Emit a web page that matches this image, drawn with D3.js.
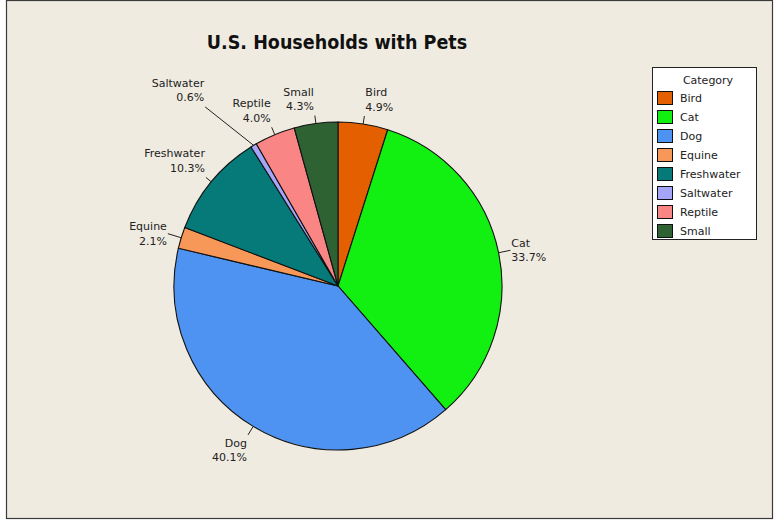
<!DOCTYPE html>
<html><head><meta charset="utf-8">
<script src="https://cdn.jsdelivr.net/npm/d3@7"></script>
<style>
html,body{margin:0;padding:0;background:#fff;}
svg{display:block;}
text{font-family:"DejaVu Sans",Verdana,sans-serif;}
</style></head>
<body>
<svg id="chart" width="775" height="521"></svg>
<script>
const categories = ["Bird","Cat","Dog","Equine","Freshwater","Saltwater","Reptile","Small"];
const percents = [4.9,33.7,40.1,2.1,10.3,0.6,4.0,4.3];
const colors = ["#E45F00","#11F011","#4F93F2","#F79858","#067A78","#A5A5FA","#F98585","#2F6232"];
const title = "U.S. Households with Pets";
const legendTitle = "Category";

const W = 775, H = 521;
const svg = d3.select("#chart");
svg.append("rect").attr("x",0).attr("y",0).attr("width",W).attr("height",H).attr("fill","#fff");
svg.append("rect").attr("x",6.5).attr("y",0.5).attr("width",766).attr("height",518)
  .attr("fill","#EFEBE1").attr("stroke","#3a3a3a").attr("stroke-width",1.2);

svg.append("text").attr("x",337).attr("y",49).attr("text-anchor","middle")
  .style("font-family","'DejaVu Sans Condensed','DejaVu Sans',sans-serif")
  .style("font-weight","bold").style("font-size","19.5px").attr("fill","#111").text(title);

const cx = 338, cy = 286, R = 164;
const data = categories.map((c,i)=>({cat:c, value:percents[i], color:colors[i]}));
const pie = d3.pie().sort(null).value(d=>d.value);
const arcs = pie(data);
const arc = d3.arc().innerRadius(0).outerRadius(R);

const g = svg.append("g").attr("transform",`translate(${cx},${cy})`);
g.selectAll("path.slice").data(arcs).enter().append("path")
  .attr("class","slice").attr("d",arc).attr("fill",d=>d.data.color)
  .attr("stroke","#111").attr("stroke-width",1.1);

// label layout (leader extension and angle tweak, for collision avoidance)
const layout = {Saltwater:{ext:59, dAng:-5.6}, Cat:{ext:12, dAng:0}, Equine:{ext:14, dAng:0}, Dog:{ext:10,dAng:0}, Freshwater:{ext:7,dAng:0}};
const lineH = 14.5;
arcs.forEach(a=>{
  const mid = (a.startAngle + a.endAngle)/2;
  const L = layout[a.data.cat] || {ext:8, dAng:0};
  const ang2 = mid + L.dAng*Math.PI/180;
  const x0 = R*Math.sin(mid), y0 = -R*Math.cos(mid);
  const x1 = (R+L.ext)*Math.sin(ang2), y1 = -(R+L.ext)*Math.cos(ang2);
  g.append("line").attr("x1",x0).attr("y1",y0).attr("x2",x1).attr("y2",y1)
    .attr("stroke","#222").attr("stroke-width",1);
  const right = Math.sin(ang2) >= 0;
  const c = Math.cos(ang2);
  const anchor = right ? "start" : "end";
  const tx = x1 + (right ? 1 : -1);
  let topY;
  if (c > 0.5) topY = y1 - 2*lineH - 2;        // above
  else if (c < -0.5) topY = y1 + 1;            // below
  else topY = y1 - lineH;                       // centered
  const t = g.append("text").attr("text-anchor",anchor).style("font-size","11px").attr("fill","#222");
  t.append("tspan").attr("x",tx).attr("y",topY+11).text(a.data.cat);
  t.append("tspan").attr("x",tx).attr("y",topY+11+lineH).text(d3.format(".1f")(a.data.value)+"%");
});

// legend
const lg = svg.append("g");
lg.append("rect").attr("x",652.5).attr("y",67.5).attr("width",104).attr("height",172)
  .attr("fill","#fff").attr("stroke","#222").attr("stroke-width",1);
lg.append("text").attr("x",708).attr("y",84).attr("text-anchor","middle")
  .style("font-size","11px").attr("fill","#222").text(legendTitle);
const ly = d3.scalePoint().domain(categories).range([98,231]);
categories.forEach((c,i)=>{
  lg.append("rect").attr("x",657.5).attr("y",ly(c)-6.5).attr("width",15).attr("height",13)
    .attr("fill",colors[i]).attr("stroke","#111").attr("stroke-width",1);
  lg.append("text").attr("x",680).attr("y",ly(c)+4).style("font-size","11px").attr("fill","#222").text(c);
});
</script>
</body></html>
